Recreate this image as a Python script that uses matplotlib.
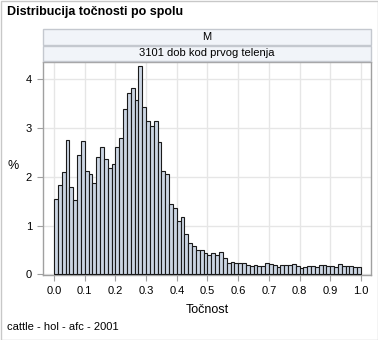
import matplotlib
matplotlib.use("Agg")
import matplotlib.pyplot as plt
from matplotlib.patches import Rectangle
import numpy as np

plt.rcParams['font.family'] = ['Liberation Sans', 'DejaVu Sans']

title = "Distribucija točnosti po spolu"
panel_row1 = "M"
panel_row2 = "3101 dob kod prvog telenja"
footer = "cattle - hol - afc - 2001"
x_label = "Točnost"
y_label = "%"

bin_width = 0.0125
bin_starts = np.arange(80) * bin_width
percent = [
    1.54, 1.82, 2.09, 2.76, 1.78, 1.52, 2.44, 2.74,
    2.12, 2.05, 1.88, 2.40, 2.61, 2.36, 2.18, 2.27,
    2.61, 2.79, 3.38, 3.72, 3.82, 3.58, 4.27, 3.43,
    3.15, 3.04, 3.14, 2.72, 2.12, 2.05, 1.45, 1.35,
    1.10, 1.17, 0.83, 0.65, 0.57, 0.50, 0.50, 0.43,
    0.40, 0.43, 0.40, 0.45, 0.34, 0.24, 0.25, 0.23,
    0.23, 0.23, 0.20, 0.18, 0.20, 0.18, 0.18, 0.23,
    0.21, 0.20, 0.16, 0.20, 0.20, 0.20, 0.21, 0.17,
    0.13, 0.16, 0.18, 0.18, 0.16, 0.20, 0.19, 0.18,
    0.18, 0.16, 0.21, 0.17, 0.18, 0.17, 0.15, 0.16,
]
x_ticks = [0.0, 0.1, 0.2, 0.3, 0.4, 0.5, 0.6, 0.7, 0.8, 0.9, 1.0]
x_tick_labels = ["0.0", "0.1", "0.2", "0.3", "0.4", "0.5", "0.6", "0.7", "0.8", "0.9", "1.0"]
y_ticks = [0, 1, 2, 3, 4]

W, H = 378, 340
fig = plt.figure(figsize=(W / 100, H / 100), dpi=100)
fig.patch.set_facecolor("white")

def fx(px):
    return px / W

def fy(py):
    return 1 - py / H

# outer border
fig.add_artist(Rectangle((fx(0.5), fy(339.5)), fx(377), 339 / H, transform=fig.transFigure,
                         fill=False, edgecolor="#c8c8c8", linewidth=1))

L, R, T, B = 43, 371, 62, 275
ax = fig.add_axes([fx(L), fy(B), fx(R - L), (B - T) / H])
ax.bar(bin_starts, percent, width=bin_width, align="edge",
       color="#cbd5e3", edgecolor="#1a1a1a", linewidth=0.8, zorder=3)
ax.set_xlim(-0.0358, 1.0326)
ax.set_ylim(-0.014, 4.35)
ax.set_xticks(x_ticks)
ax.set_xticklabels(x_tick_labels)
ax.set_yticks(y_ticks)
ax.grid(True, color="#e6e6e6", linewidth=1, zorder=0)
ax.set_axisbelow(True)
for s in ax.spines.values():
    s.set_color("#a0a0a0")
    s.set_linewidth(1)
ax.tick_params(axis="both", direction="out", length=4, color="#a0a0a0",
               labelsize=8, labelcolor="#000000", pad=4)
ax.set_xlabel(x_label, fontsize=9, labelpad=6)
fig.text(fx(13), fy(166), y_label, ha="center", va="center", fontsize=9)

# header panels
for (y0, y1, txt) in [(29, 44.5, panel_row1), (45.5, 61, panel_row2)]:
    fig.add_artist(Rectangle((fx(L), fy(y1)), fx(R - L), (y1 - y0) / H, transform=fig.transFigure,
                             facecolor="#f1f4f9", edgecolor="#c4c8cf", linewidth=1))
    fig.text(fx((L + R) / 2), fy((y0 + y1) / 2), txt, ha="center", va="center", fontsize=8)

fig.text(fx(7), fy(12), title, ha="left", va="center", fontsize=9, fontweight="bold")
fig.text(fx(7), fy(327), footer, ha="left", va="center", fontsize=8)

fig.savefig("out.png", dpi=100)
